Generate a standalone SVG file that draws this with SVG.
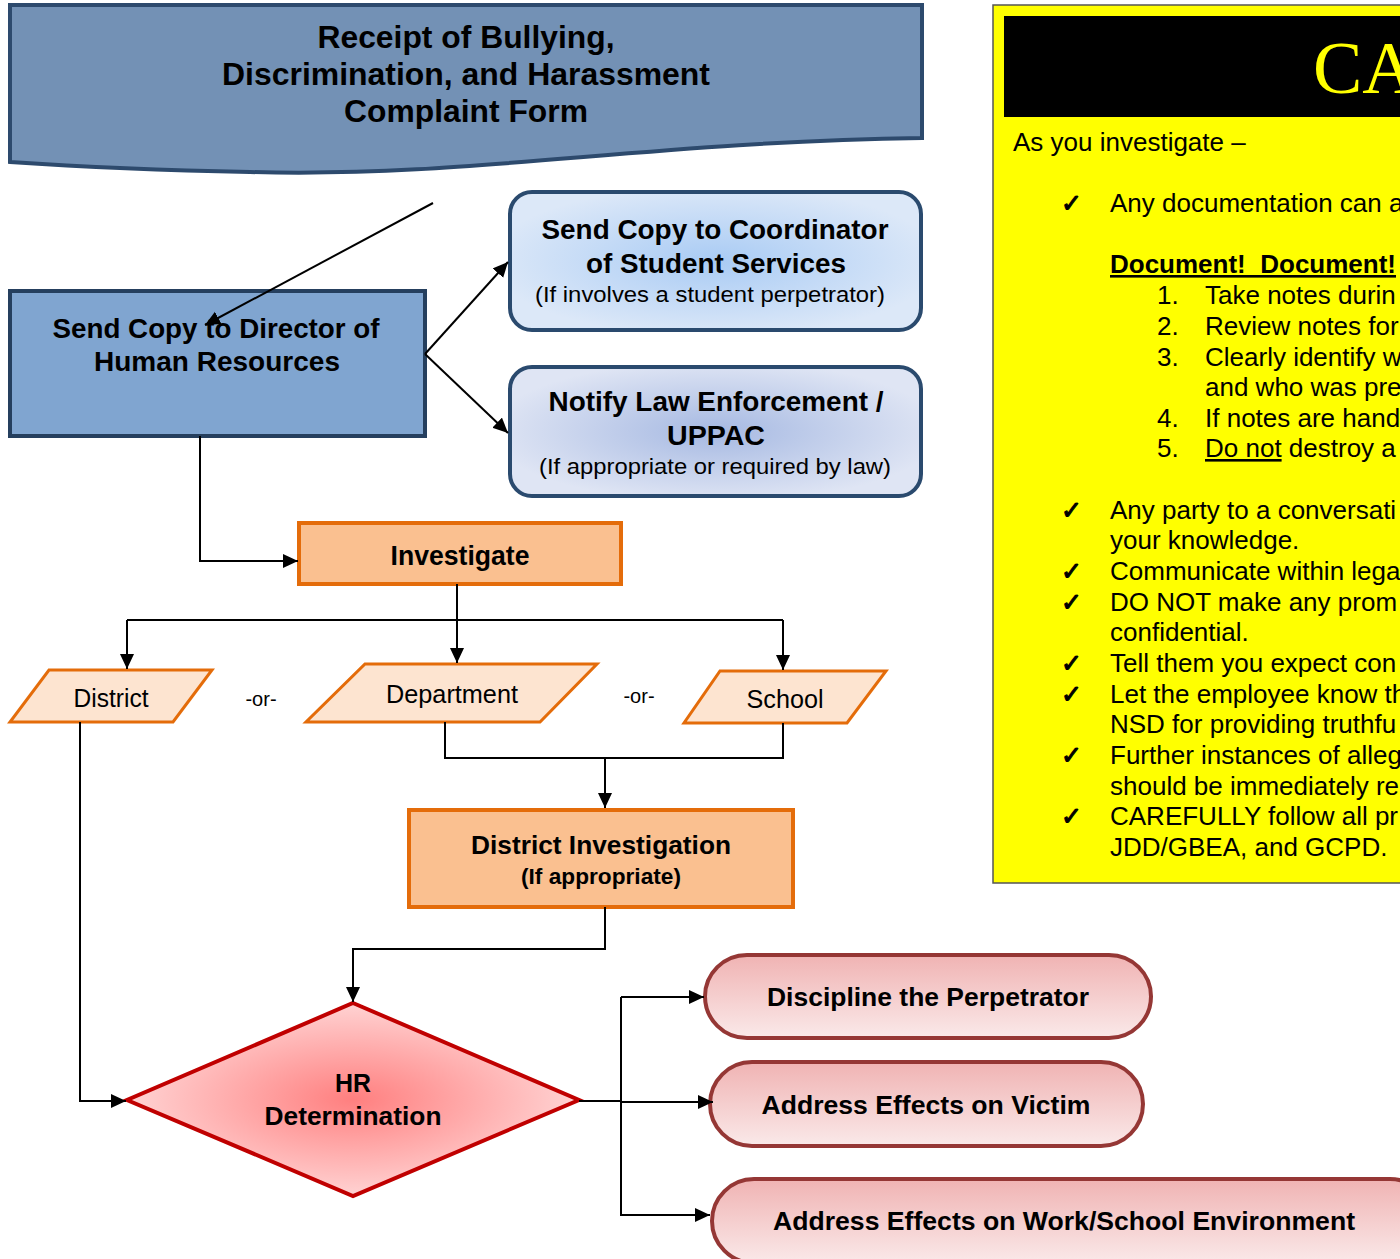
<svg xmlns="http://www.w3.org/2000/svg" width="1400" height="1259" viewBox="0 0 1400 1259">
<style>
.b{font-family:"Liberation Sans",Arial,sans-serif;font-weight:bold;fill:#000;text-anchor:middle}
.r{font-family:"Liberation Sans",Arial,sans-serif;fill:#000;text-anchor:middle}
.p{font-family:"Liberation Sans",Arial,sans-serif;fill:#000;font-size:26px}
.ck{font-family:"DejaVu Sans",sans-serif;fill:#000;stroke:#000;stroke-width:1.1;font-size:25px}
.ln{fill:none;stroke:#000;stroke-width:2}
.ar{fill:none;stroke:#000;stroke-width:2;marker-end:url(#ah)}
.para{fill:#fde4d0;stroke:#e46c0a;stroke-width:3}
.orb{fill:#fac090;stroke:#e46c0a;stroke-width:4}
.pill{fill:url(#gp);stroke:#953735;stroke-width:4}
</style>
<defs>
<marker id="ah" markerUnits="userSpaceOnUse" markerWidth="16" markerHeight="15" refX="15" refY="7" orient="auto">
<path d="M0,0 L15,7 L0,14 z" fill="#000"/>
</marker>
<radialGradient id="gc" cx="50%" cy="50%" r="55%">
<stop offset="0" stop-color="#a9cbf4"/>
<stop offset="1" stop-color="#dce8f8"/>
</radialGradient>
<radialGradient id="gl" cx="50%" cy="50%" r="55%">
<stop offset="0" stop-color="#a6b9e2"/>
<stop offset="1" stop-color="#dfe5f4"/>
</radialGradient>
<radialGradient id="gd" cx="50%" cy="50%" r="50%">
<stop offset="0" stop-color="#ff7f7f"/>
<stop offset="1" stop-color="#ffd3d3"/>
</radialGradient>
<linearGradient id="gp" x1="0" y1="0" x2="0" y2="1">
<stop offset="0" stop-color="#f0b3b3"/>
<stop offset="1" stop-color="#fae9e9"/>
</linearGradient>
</defs>
<rect width="1400" height="1259" fill="#fff"/>

<g id="caution-panel">
<rect x="993" y="5" width="420" height="878" fill="#ffff00" stroke="#555" stroke-width="1.5"/>
<rect x="1004" y="16" width="410" height="101" fill="#000"/>
<text x="1313" y="93" font-family="'Liberation Serif','Times New Roman',serif" font-size="74" fill="#ffff00">CA</text>
<text class="p" x="1013" y="151">As you investigate –</text>
<text class="ck" x="1061" y="212">✓</text>
<text class="p" x="1110" y="212">Any documentation can a</text>
<text class="p" x="1110" y="273" font-weight="bold" text-decoration="underline">Document!&#160; Document!</text>
<text class="p" x="1157" y="304">1.</text><text class="p" x="1205" y="304">Take notes durin</text>
<text class="p" x="1157" y="335">2.</text><text class="p" x="1205" y="335">Review notes for</text>
<text class="p" x="1157" y="366">3.</text><text class="p" x="1205" y="366">Clearly identify w</text>
<text class="p" x="1205" y="396">and who was pre</text>
<text class="p" x="1157" y="427">4.</text><text class="p" x="1205" y="427">If notes are hand</text>
<text class="p" x="1157" y="457">5.</text><text class="p" x="1205" y="457"><tspan text-decoration="underline">Do not</tspan> destroy a</text>
<text class="ck" x="1061" y="519">✓</text>
<text class="p" x="1110" y="519">Any party to a conversati</text>
<text class="p" x="1110" y="549">your knowledge.</text>
<text class="ck" x="1061" y="580">✓</text>
<text class="p" x="1110" y="580">Communicate within lega</text>
<text class="ck" x="1061" y="611">✓</text>
<text class="p" x="1110" y="611">DO NOT make any prom</text>
<text class="p" x="1110" y="641">confidential.</text>
<text class="ck" x="1061" y="672">✓</text>
<text class="p" x="1110" y="672">Tell them you expect con</text>
<text class="ck" x="1061" y="703">✓</text>
<text class="p" x="1110" y="703">Let the employee know th</text>
<text class="p" x="1110" y="733">NSD for providing truthfu</text>
<text class="ck" x="1061" y="764">✓</text>
<text class="p" x="1110" y="764">Further instances of alleg</text>
<text class="p" x="1110" y="795">should be immediately re</text>
<text class="ck" x="1061" y="825">✓</text>
<text class="p" x="1110" y="825">CAREFULLY follow all pr</text>
<text class="p" x="1110" y="856">JDD/GBEA, and GCPD.</text>
</g>

<g id="receipt">
<path d="M10,5 L922,5 L922,138 C 640,142 470,178 250,172 C 150,170 70,166 10,162 Z" fill="#7391b5" stroke="#2d4a6d" stroke-width="4"/>
<text class="b" x="466" y="48" font-size="32" textLength="297" lengthAdjust="spacingAndGlyphs">Receipt of Bullying,</text>
<text class="b" x="466" y="85" font-size="32" textLength="488" lengthAdjust="spacingAndGlyphs">Discrimination, and Harassment</text>
<text class="b" x="466" y="122" font-size="32" textLength="244" lengthAdjust="spacingAndGlyphs">Complaint Form</text>
</g>

<g id="hr-director">
<rect x="10" y="291" width="415" height="145" fill="#80a5d0" stroke="#253f5e" stroke-width="4"/>
<text class="b" x="216" y="338" font-size="27" textLength="327" lengthAdjust="spacingAndGlyphs">Send Copy to Director of</text>
<text class="b" x="217" y="371" font-size="27" textLength="246" lengthAdjust="spacingAndGlyphs">Human Resources</text>
</g>

<g id="coordinator">
<rect x="510" y="192" width="411" height="138" rx="22" fill="url(#gc)" stroke="#2a4a6e" stroke-width="4"/>
<text class="b" x="715" y="239" font-size="27" textLength="347" lengthAdjust="spacingAndGlyphs">Send Copy to Coordinator</text>
<text class="b" x="716" y="273" font-size="27" textLength="260" lengthAdjust="spacingAndGlyphs">of Student Services</text>
<text class="r" x="710" y="302" font-size="22" textLength="350" lengthAdjust="spacingAndGlyphs">(If involves a student perpetrator)</text>
</g>

<g id="law">
<rect x="510" y="367" width="411" height="129" rx="22" fill="url(#gl)" stroke="#2a4a6e" stroke-width="4"/>
<text class="b" x="716" y="411" font-size="27" textLength="335" lengthAdjust="spacingAndGlyphs">Notify Law Enforcement /</text>
<text class="b" x="716" y="445" font-size="27" textLength="98" lengthAdjust="spacingAndGlyphs">UPPAC</text>
<text class="r" x="715" y="474" font-size="22" textLength="352" lengthAdjust="spacingAndGlyphs">(If appropriate or required by law)</text>
</g>

<g id="investigate">
<rect class="orb" x="299" y="523" width="322" height="61"/>
<text class="b" x="460" y="565" font-size="27" textLength="139" lengthAdjust="spacingAndGlyphs">Investigate</text>
</g>

<g id="district">
<polygon class="para" points="49,670 212,670 173,722 10,722"/>
<text class="r" x="111" y="707" font-size="25" textLength="75" lengthAdjust="spacingAndGlyphs">District</text>
</g>
<g id="department">
<polygon class="para" points="365,664 597,664 540,722 306,722"/>
<text class="r" x="452" y="703" font-size="25" textLength="132" lengthAdjust="spacingAndGlyphs">Department</text>
</g>
<g id="school">
<polygon class="para" points="720,671 886,671 847,723 684,723"/>
<text class="r" x="785" y="708" font-size="25" textLength="77" lengthAdjust="spacingAndGlyphs">School</text>
</g>
<g id="or-labels">
<text class="r" x="261" y="706" font-size="20">-or-</text>
<text class="r" x="639" y="703" font-size="20">-or-</text>
</g>

<g id="district-investigation">
<rect class="orb" x="409" y="810" width="384" height="97"/>
<text class="b" x="601" y="854" font-size="26" textLength="260" lengthAdjust="spacingAndGlyphs">District Investigation</text>
<text class="b" x="601" y="884" font-size="22" textLength="160" lengthAdjust="spacingAndGlyphs">(If appropriate)</text>
</g>

<g id="hr-determination">
<polygon points="353,1003 579,1100 353,1196 127,1100" fill="url(#gd)" stroke="#c00000" stroke-width="4"/>
<text class="b" x="353" y="1092" font-size="25" textLength="36" lengthAdjust="spacingAndGlyphs">HR</text>
<text class="b" x="353" y="1125" font-size="25" textLength="177" lengthAdjust="spacingAndGlyphs">Determination</text>
</g>

<g id="discipline">
<rect class="pill" x="705" y="955" width="446" height="83" rx="42"/>
<text class="b" x="928" y="1006" font-size="26" textLength="322" lengthAdjust="spacingAndGlyphs">Discipline the Perpetrator</text>
</g>
<g id="victim">
<rect class="pill" x="710" y="1062" width="433" height="84" rx="42"/>
<text class="b" x="926" y="1114" font-size="26" textLength="329" lengthAdjust="spacingAndGlyphs">Address Effects on Victim</text>
</g>
<g id="environment">
<rect class="pill" x="712" y="1179" width="720" height="84" rx="42"/>
<text class="b" x="1064" y="1230" font-size="26" textLength="582" lengthAdjust="spacingAndGlyphs">Address Effects on Work/School Environment</text>
</g>

<g id="connectors">
<path class="ar" d="M433,203 L205,325"/>
<path class="ar" d="M425,354 L508,262"/>
<path class="ar" d="M425,354 L508,433"/>
<path class="ar" d="M200,436 V561 H298"/>
<path class="ar" d="M457,584 V663"/>
<path class="ln" d="M127,620 H783"/>
<path class="ar" d="M127,620 V669"/>
<path class="ar" d="M783,620 V670"/>
<path class="ln" d="M445,722 V758 H783 V723"/>
<path class="ar" d="M605,758 V808"/>
<path class="ar" d="M605,907 V949 H353 V1002"/>
<path class="ar" d="M80,722 V1101 H126"/>
<path class="ln" d="M579,1101 H621"/>
<path class="ln" d="M621,997 V1216"/>
<path class="ar" d="M621,997 H704"/>
<path class="ar" d="M621,1102 H713"/>
<path class="ar" d="M621,1215 H710"/>
</g>
</svg>
